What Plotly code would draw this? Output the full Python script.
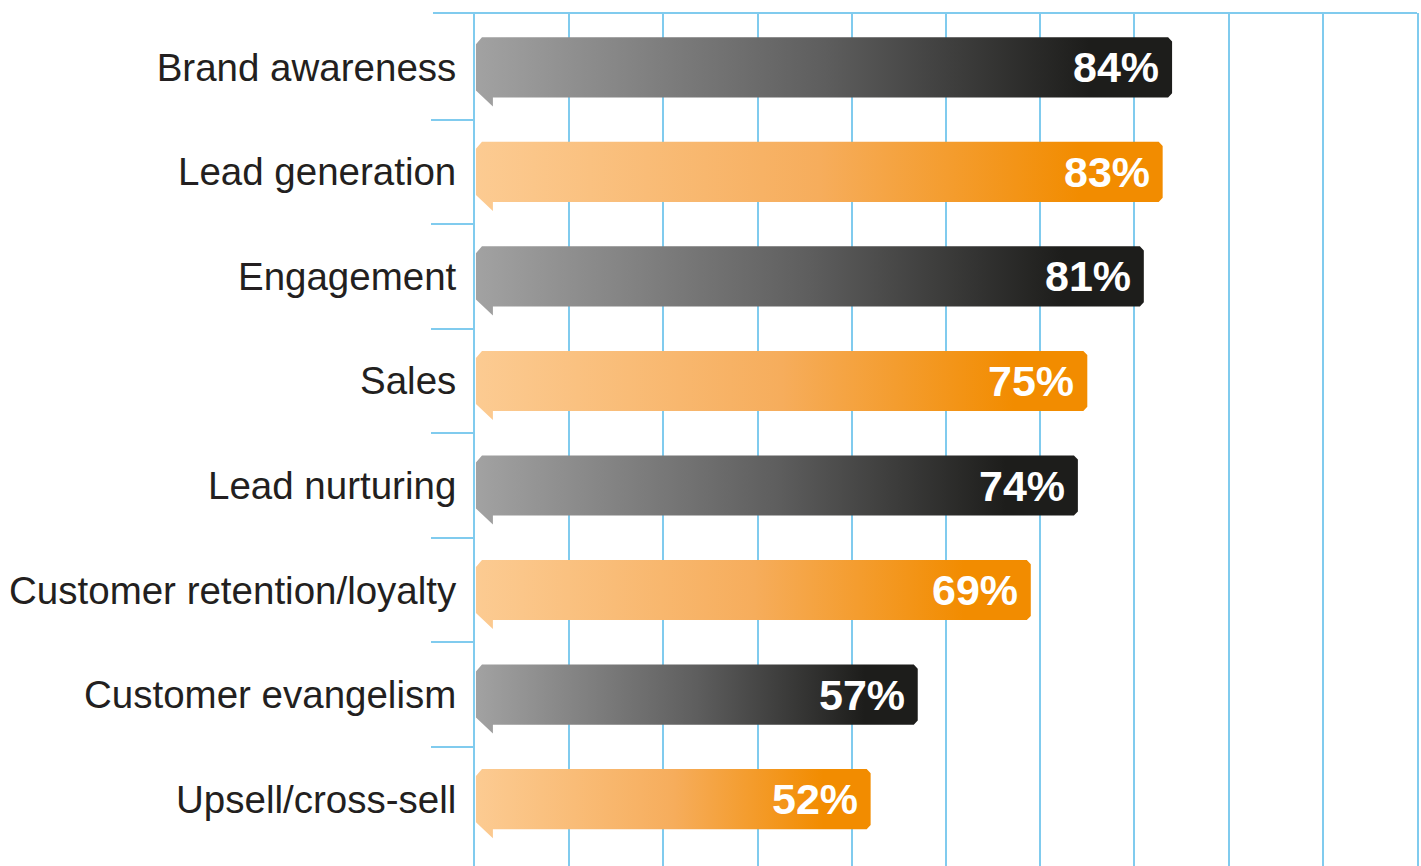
import plotly.graph_objects as go

categories = ["Brand awareness", "Lead generation", "Engagement", "Sales",
              "Lead nurturing", "Customer retention/loyalty",
              "Customer evangelism", "Upsell/cross-sell"]
values = [84, 83, 81, 75, 74, 69, 57, 52]
labels = ["84%", "83%", "81%", "75%", "74%", "69%", "57%", "52%"]

GRAY_SCALE = [[0, "#a2a2a2"], [0.5, "#5e5e5e"], [0.88, "#1d1d1b"], [1, "#1d1d1b"]]
ORANGE_SCALE = [[0, "#fccb92"], [0.5, "#f6ad5c"], [0.88, "#f28c00"], [1, "#f28c00"]]
BLUE = "#80cbee"

X_MIN, X_MAX = 10, 110
Y_TOP, Y_BOTTOM = -0.52, 7.64

# bar shape parameters (data units)
x0 = 10.1
h = 0.2876
cl, cly = 0.64, 0.067
fw, fl, fy = 1.8, 0.086, 0.067
cr, cry = 0.42, 0.04

fig = go.Figure()
for i, (cat, v) in enumerate(zip(categories, values)):
    yc = i
    xs = [x0 + cl, v - cr, v, v, v - cr, x0 + fw, x0 + fw, x0, x0, x0 + cl]
    ys = [yc - h, yc - h, yc - h + cry, yc + h - cry, yc + h, yc + h,
          yc + h + fl, yc + h - fy, yc - h + cly, yc - h]
    scale = GRAY_SCALE if i % 2 == 0 else ORANGE_SCALE
    fig.add_trace(go.Scatter(
        x=xs, y=ys, mode="lines", fill="toself",
        line=dict(width=0),
        fillgradient=dict(type="horizontal", colorscale=scale),
        hoverinfo="skip", showlegend=False, name=cat,
    ))
    fig.add_annotation(
        x=v, y=yc, text=labels[i], showarrow=False,
        xanchor="right", yanchor="middle", xshift=-11,
        font=dict(family="Liberation Sans", size=43, color="white", weight="bold"),
    )

fig.add_shape(type="line", xref="paper", yref="paper",
              x0=-0.0446, x1=1, y0=1, y1=1,
              line=dict(color=BLUE, width=2))

fig.update_xaxes(
    range=[X_MIN, X_MAX], tick0=0, dtick=10, showgrid=True,
    gridcolor=BLUE, gridwidth=2, showticklabels=False, ticks="",
    zeroline=False, showline=False,
)
fig.update_yaxes(
    range=[Y_BOTTOM, Y_TOP], tickmode="array",
    tickvals=list(range(len(categories))), ticktext=categories,
    ticks="", showgrid=False, zeroline=False,
    showline=True, mirror=True, linecolor=BLUE, linewidth=2,
    ticklabelstandoff=9,
    tickfont=dict(family="Liberation Sans", size=38.5, color="#231f20"),
    minor=dict(tickvals=[i + 0.5 for i in range(len(categories) - 1)],
               ticks="outside", ticklen=42, tickwidth=2, tickcolor=BLUE,
               showgrid=False),
)
fig.update_layout(
    width=1421, height=866,
    margin=dict(l=475, r=4, t=13, b=0),
    plot_bgcolor="white", paper_bgcolor="white",
)
fig.write_html(
    "out.html",
    config={"displayModeBar": False},
    post_script="document.body.style.margin='0';document.body.style.overflow='hidden';",
)
